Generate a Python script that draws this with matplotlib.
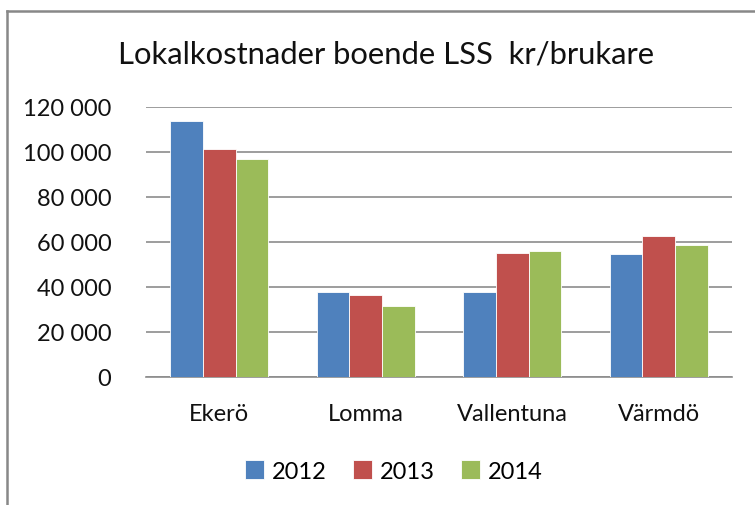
import matplotlib
matplotlib.use("Agg")
import matplotlib.pyplot as plt
import numpy as np
from matplotlib.lines import Line2D
from matplotlib.ticker import FuncFormatter

plt.rcParams['font.family'] = ['Lato', 'DejaVu Sans']

# Lokalkostnader per brukare
kommuner = ["Ekerö", "Lomma", "Vallentuna", "Värmdö"]
ar = ["2012", "2013", "2014"]
v2012 = [113800, 37600, 37600, 54500]
v2013 = [101500, 36400, 55300, 62800]
v2014 = [96700, 31700, 55900, 58700]
farger = ["#4F81BD", "#C0504D", "#9BBB59"]

fig = plt.figure(figsize=(7.55, 5.06), dpi=100)
ax = fig.add_axes([0.1934, 0.253, 0.7761, 0.5336])

x = np.arange(len(kommuner))
w = 1 / 4.5
for i, (serie, namn, f) in enumerate(zip([v2012, v2013, v2014], ar, farger)):
    ax.bar(x + (i - 1) * w, serie, width=w, color=f, label=namn,
           edgecolor="white", linewidth=0.6, zorder=3)

ax.set_xlim(-0.5, len(kommuner) - 0.5)
ax.set_ylim(0, 120000)
ax.set_yticks(np.arange(0, 120001, 20000))
ax.yaxis.set_major_formatter(FuncFormatter(lambda v, p: f"{int(v):,}".replace(",", " ")))
ax.grid(axis="y", color="#8c8c8c", linewidth=1.2, zorder=0)
ax.set_xticks(x)
ax.set_xticklabels(kommuner)
ax.tick_params(axis="both", length=0, labelsize=17, colors="#111111")
ax.tick_params(axis="y", pad=25)
ax.tick_params(axis="x", pad=19)
for s in ["left", "right", "top"]:
    ax.spines[s].set_visible(False)
ax.spines["bottom"].set_color("#8c8c8c")
ax.spines["bottom"].set_linewidth(1.2)

fig.text(0.511, 0.893, "Lokalkostnader boende LSS  kr/brukare",
         ha="center", va="center", fontsize=22.3, color="#111111")

fig.legend(loc="center", bbox_to_anchor=(0.522, 0.067), ncol=3, frameon=False,
           fontsize=17, handlelength=0.8, handleheight=0.8,
           handletextpad=0.35, columnspacing=1.1)

# ram runt diagrammet
grey = "#888888"
fig.add_artist(Line2D([7 / 755, 7 / 755], [0, 1 - 12 / 506], transform=fig.transFigure,
                      color=grey, linewidth=1.8))
fig.add_artist(Line2D([7 / 755, 1], [1 - 12 / 506, 1 - 12 / 506], transform=fig.transFigure,
                      color=grey, linewidth=1.8))

fig.savefig("out.png", dpi=100)
